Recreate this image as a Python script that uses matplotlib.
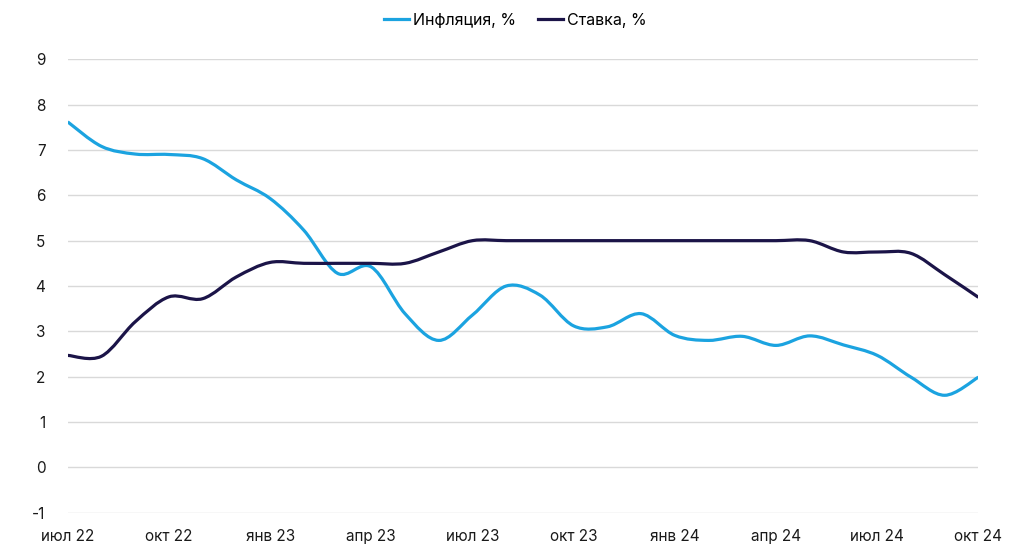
import matplotlib
matplotlib.use("Agg")
import matplotlib.pyplot as plt
from matplotlib.path import Path
from matplotlib.patches import PathPatch
from matplotlib.lines import Line2D
import numpy as np

plt.rcParams['font.family'] = ['Inter', 'DejaVu Sans']
plt.rcParams['axes.unicode_minus'] = False

# monthly values, июл 22 .. окт 24
months = ['июл 22', 'авг 22', 'сен 22', 'окт 22', 'ноя 22', 'дек 22',
          'янв 23', 'фев 23', 'мар 23', 'апр 23', 'май 23', 'июн 23',
          'июл 23', 'авг 23', 'сен 23', 'окт 23', 'ноя 23', 'дек 23',
          'янв 24', 'фев 24', 'мар 24', 'апр 24', 'май 24', 'июн 24',
          'июл 24', 'авг 24', 'сен 24', 'окт 24']
inflation = [7.62, 7.08, 6.91, 6.90, 6.81, 6.34,
             5.93, 5.23, 4.28, 4.42, 3.39, 2.80,
             3.36, 4.00, 3.80, 3.12, 3.10, 3.39,
             2.91, 2.80, 2.89, 2.69, 2.90, 2.70,
             2.47, 1.99, 1.59, 1.99]
rate = [2.47, 2.45, 3.21, 3.76, 3.72, 4.20,
        4.52, 4.50, 4.50, 4.50, 4.50, 4.75,
        5.00, 5.00, 5.00, 5.00, 5.00, 5.00,
        5.00, 5.00, 5.00, 5.00, 5.00, 4.75,
        4.75, 4.72, 4.25, 3.75]
tick_months = months[::3]

c_infl = '#1ba3e0'
c_rate = '#1b1448'


def smooth_path(y):
    # excel-like smoothed line as cubic bezier segments
    x = np.arange(len(y), dtype=float)
    pts = np.column_stack([x, np.asarray(y, dtype=float)])
    verts = [pts[0]]
    codes = [Path.MOVETO]
    n = len(pts)
    for i in range(n - 1):
        p0 = pts[max(i - 1, 0)]
        p1 = pts[i]
        p2 = pts[i + 1]
        p3 = pts[min(i + 2, n - 1)]
        c1 = p1 + (p2 - p0) / 6.0
        c2 = p2 - (p3 - p1) / 6.0
        verts += [c1, c2, p2]
        codes += [Path.CURVE4] * 3
    return Path(verts, codes)


fig = plt.figure(figsize=(10.24, 5.54), dpi=100)
ax = fig.add_axes([0.0661, 0.0745, 0.8894, 0.8185])

for y, c in [(inflation, c_infl), (rate, c_rate)]:
    patch = PathPatch(smooth_path(y), facecolor='none', edgecolor=c,
                      lw=2.3, capstyle='butt', joinstyle='round', zorder=3)
    ax.add_patch(patch)

ax.set_xlim(0, len(months) - 1)
ax.set_ylim(-1, 9)
ax.set_yticks(range(-1, 10))
ax.set_xticks(range(0, len(months), 3))
ax.set_xticklabels(tick_months)
ax.grid(axis='y', color='#d9d9d9', lw=1)
ax.set_axisbelow(True)
for s in ax.spines.values():
    s.set_visible(False)
ax.tick_params(axis='both', length=0, labelsize=11, colors='#1a1a1a')
ax.tick_params(axis='y', pad=16)
ax.tick_params(axis='x', pad=12)

handles = [Line2D([], [], color=c_infl, lw=2.3),
           Line2D([], [], color=c_rate, lw=2.3)]
fig.legend(handles, ['Инфляция, %', 'Ставка, %'], loc='center',
           bbox_to_anchor=(0.503, 0.963), ncol=2, frameon=False,
           fontsize=11.5, handlelength=1.6, handletextpad=0.2,
           columnspacing=1.4)

fig.savefig('out.png', dpi=100)
